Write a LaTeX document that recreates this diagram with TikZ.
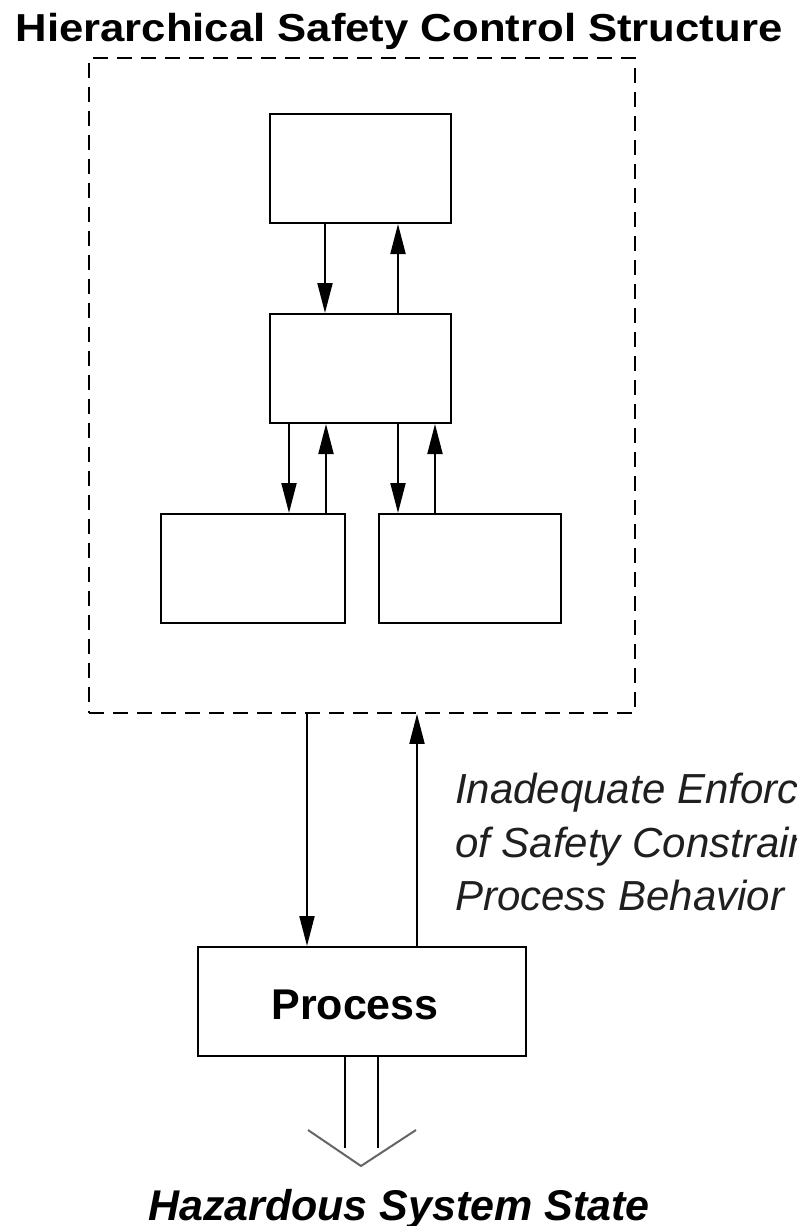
\documentclass[tikz,border=0pt]{standalone}
\usepackage{fontspec}
\setmainfont{Liberation Sans}
\usetikzlibrary{arrows.meta}
\begin{document}
\begin{tikzpicture}[x=1pt,y=-1pt,
  box/.style={draw=black,line width=2pt,inner sep=0pt,minimum height=109pt,fill=white},
  arr/.style={line width=2pt,-{Triangle[length=30pt,width=15pt]}},
  dashbox/.style={draw=black,line width=1.8pt,dash pattern=on 15pt off 9pt,inner sep=0pt,minimum width=546pt,minimum height=655pt},
  txt/.style={inner sep=0pt,font=\fontsize{42}{53}\selectfont\itshape,text=black!88},
  ttl/.style={inner sep=0pt,font=\fontsize{39}{46}\selectfont\bfseries},
  lbl/.style={inner sep=0pt,font=\fontsize{43}{48}\selectfont\bfseries}
]
\clip (0,0) rectangle (796,1226);
\fill[white] (0,0) rectangle (796,1226);
\node[ttl,anchor=base] (title) at (399,41) {\scalebox{1.12}[1]{Hierarchical Safety Control Structure}};
\node[dashbox] (ctl) at (362,385.5) {};
\node[box,minimum width=181pt] (b1) at (360.5,168.5) {};
\node[box,minimum width=181pt] (b2) at (360.5,368.5) {};
\node[box,minimum width=184pt] (b3) at (253,568.5) {};
\node[box,minimum width=182pt] (b4) at (470,568.5) {};
\node[box,minimum width=328pt] (proc) at (362,1001.5) {};
\node[lbl,anchor=base] (plbl) at (355,1019) {Process};
% arrows
\draw[arr] (325,0 |- b1.south) -- (325,0 |- b2.north);
\draw[arr] (398,0 |- b2.north) -- (398,0 |- b1.south);
\draw[arr] (289,0 |- b2.south) -- (289,0 |- b3.north);
\draw[arr] (326,0 |- b3.north) -- (326,0 |- b2.south);
\draw[arr] (398,0 |- b2.south) -- (398,0 |- b4.north);
\draw[arr] (435,0 |- b4.north) -- (435,0 |- b2.south);
\draw[arr] (307,0 |- ctl.south) -- (307,0 |- proc.north);
\draw[arr] (417,0 |- proc.north) -- (417,0 |- ctl.south);
% output
\coordinate (tipL) at (308,1130);
\coordinate (tip) at (361,1166);
\coordinate (tipR) at (416,1130);
\draw[line width=2pt] (345,0 |- proc.south) -- (345,1148);
\draw[line width=2pt] (378,0 |- proc.south) -- (378,1148);
\draw[line width=2pt,draw=black!60] (tipL) -- (tip) -- (tipR);
\node[inner sep=0pt,anchor=base,font=\fontsize{43}{48}\selectfont\bfseries\itshape] (haz) at (399,1220) {Hazardous System State};
% label
\node[txt,anchor=base west] (l1) at (455,803) {Inadequate Enforcement};
\node[txt,anchor=base west] (l2) at (455,857) {of Safety Constraints on};
\node[txt,anchor=base west] (l3) at (455,910) {Process Behavior};
\end{tikzpicture}
\end{document}
